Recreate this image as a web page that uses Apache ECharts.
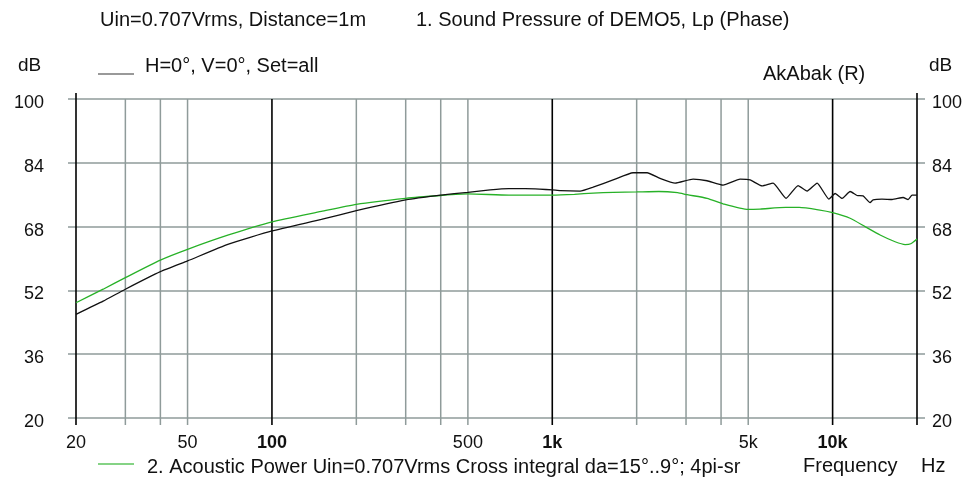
<!DOCTYPE html>
<html>
<head>
<meta charset="utf-8">
<script src="https://cdn.jsdelivr.net/npm/echarts@6/dist/echarts.min.js"></script>
<style>
html,body{margin:0;padding:0;background:#fff;}
#chart{width:973px;height:481px;}
</style>
</head>
<body>
<div id="chart"></div>
<script>
// ---- data ----
const freqBlack = [20,25,30,40,50,70,100,150,200,300,400,500,600,700,800,900,1000,1070,1257,1399,1648,1942,2178,2424,2742,3178,3566,4066,4676,5079,5604,6134,6824,7530,8110,8804,9700,10208,10812,11546,12230,12844,13606,13946,15000,16304,17846,18590,19210,20000];
const splBlack  = [46.0,49.3,52.3,56.7,59.4,63.6,66.9,69.8,72.0,74.7,75.9,76.6,77.2,77.5,77.5,77.4,77.2,77.0,76.9,77.9,79.7,81.5,81.5,80.1,78.9,79.9,79.5,78.4,79.9,79.7,78.2,78.9,75.1,78.3,76.9,78.9,74.9,76.3,75.1,76.8,75.8,75.7,74.0,74.7,74.9,74.8,75.3,74.8,75.9,75.9];
const freqGreen = [20,25,30,40,50,70,100,150,200,300,400,500,700,1000,1200,1400,1650,2000,2400,2800,3030,3566,4066,5000,5510,6800,7600,8900,10000,11546,13058,14774,16708,18146,19000,20000];
const splGreen  = [48.9,52.3,55.2,59.6,62.3,65.9,69.2,71.8,73.6,75.1,75.8,76.2,75.9,75.9,76.1,76.4,76.6,76.7,76.8,76.5,76.0,75.1,73.7,72.3,72.4,72.8,72.8,72.2,71.5,70.1,68.0,65.9,64.2,63.5,63.7,64.9];
const yTicks = [20,36,52,68,84,100];
const xTickValues = [20,50,100,500,1000,5000,10000];
const xTickLabels = ['20','50','100','500','1k','5k','10k'];
const xTickBold   = [false,false,true,false,true,false,true];
const majorGrid = [20,100,1000,10000,20000];
const minorGrid = [30,40,50,200,300,400,500,2000,3000,4000,5000];

const FONT = '"Liberation Sans", Arial, sans-serif';
const GRID_GRAY = '#8f9b9a';

const chart = echarts.init(document.getElementById('chart'), null, {renderer:'canvas'});

const gridRows = majorGrid.map(v => [v, 1]).concat(minorGrid.map(v => [v, 0]));
const labelRows = xTickValues.map((v, i) => [v, i]);

const yAxisCommon = {
  type: 'value', min: yTicks[0], max: yTicks[yTicks.length-1], interval: 16,
  axisLine: {show: false},
  axisTick: {show: true, length: 8, lineStyle: {color: GRID_GRAY, width: 1.5}},
  axisLabel: {fontFamily: FONT, fontSize: 18, color: '#111', verticalAlign: 'top', lineHeight: 8}
};

chart.setOption({
  animation: false,
  backgroundColor: '#fff',
  grid: {left: 76, right: 56, top: 99, bottom: 63, containLabel: false},
  xAxis: {
    type: 'log', logBase: 10, min: 20, max: 20000,
    axisLine: {show: false}, axisTick: {show: false}, axisLabel: {show: false}, splitLine: {show: false}
  },
  yAxis: [
    Object.assign({}, yAxisCommon, {position: 'left',
      axisLabel: Object.assign({}, yAxisCommon.axisLabel, {margin: 32}),
      splitLine: {show: true, lineStyle: {color: GRID_GRAY, width: 1.5}}}),
    Object.assign({}, yAxisCommon, {position: 'right',
      axisLabel: Object.assign({}, yAxisCommon.axisLabel, {margin: 15}),
      splitLine: {show: false}})
  ],
  series: [
    {
      type: 'custom', z: 1, clip: false, silent: true,
      data: gridRows,
      renderItem: function (params, api) {
        const x = api.coord([api.value(0), 100])[0];
        const yTop = api.coord([20, 100])[1];
        const yBot = api.coord([20, 20])[1];
        const major = api.value(1) === 1;
        const edge = api.value(0) === 20 || api.value(0) === 20000;
        return {
          type: 'line',
          shape: {x1: x, y1: edge ? yTop - 6 : yTop, x2: x, y2: yBot + 7},
          style: {stroke: major ? '#000' : GRID_GRAY, lineWidth: major ? 1.6 : 1.5}
        };
      }
    },
    {
      type: 'custom', z: 1, clip: false, silent: true,
      data: labelRows,
      renderItem: function (params, api) {
        const i = api.value(1);
        const p = api.coord([api.value(0), 20]);
        return {
          type: 'text',
          style: {
            text: xTickLabels[i], x: p[0], y: p[1] + 25,
            align: 'center', verticalAlign: 'middle',
            font: (xTickBold[i] ? 'bold ' : '') + '18px ' + FONT,
            fill: '#111'
          }
        };
      }
    },
    {
      type: 'line', z: 3, showSymbol: false, silent: true,
      data: freqGreen.map((f, i) => [f, splGreen[i]]),
      lineStyle: {color: '#27b127', width: 1.3},
      smooth: 0.2
    },
    {
      type: 'line', z: 4, showSymbol: false, silent: true,
      data: freqBlack.map((f, i) => [f, splBlack[i]]),
      lineStyle: {color: '#111', width: 1.3},
      smooth: 0.15
    }
  ],
  graphic: [
    {type: 'text', left: 100, top: 10, style: {text: 'Uin=0.707Vrms, Distance=1m', font: '20px ' + FONT, fill: '#111'}},
    {type: 'text', left: 416, top: 10, style: {text: '1. Sound Pressure of DEMO5, Lp (Phase)', font: '20px ' + FONT, fill: '#111'}},
    {type: 'text', left: 18, top: 56, style: {text: 'dB', font: '19px ' + FONT, fill: '#111'}},
    {type: 'text', left: 929, top: 56, style: {text: 'dB', font: '19px ' + FONT, fill: '#111'}},
    {type: 'line', shape: {x1: 98, y1: 74, x2: 134, y2: 74}, style: {stroke: '#777', lineWidth: 1.3}},
    {type: 'text', left: 145, top: 56, style: {text: 'H=0°, V=0°, Set=all', font: '20px ' + FONT, fill: '#111'}},
    {type: 'text', left: 763, top: 64, style: {text: 'AkAbak (R)', font: '20px ' + FONT, fill: '#111'}},
    {type: 'text', left: 803, top: 456, style: {text: 'Frequency', font: '20px ' + FONT, fill: '#111'}},
    {type: 'text', left: 921, top: 456, style: {text: 'Hz', font: '20px ' + FONT, fill: '#111'}},
    {type: 'line', shape: {x1: 98, y1: 464, x2: 134, y2: 464}, style: {stroke: '#5cc45c', lineWidth: 1.3}},
    {type: 'text', left: 147, top: 457, style: {text: '2. Acoustic Power Uin=0.707Vrms Cross integral da=15°..9°; 4pi-sr', font: '20px ' + FONT, fill: '#111'}}
  ]
});
</script>
</body>
</html>
